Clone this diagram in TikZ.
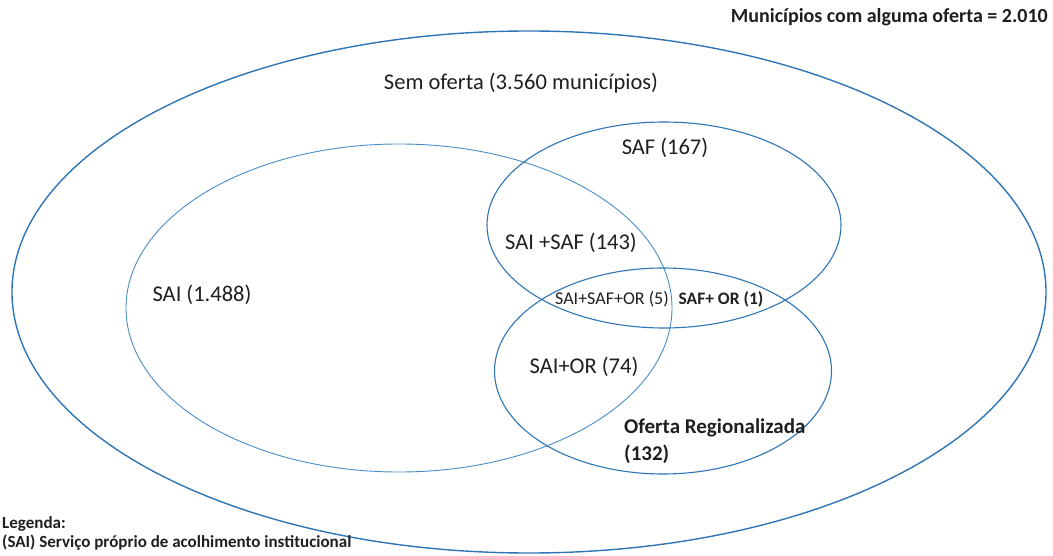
\documentclass[tikz,border=0pt]{standalone}
\usepackage{fontspec}
\setmainfont{Carlito}
\usetikzlibrary{shapes.geometric}
\definecolor{setblue}{RGB}{46,117,182}
\definecolor{setlight}{RGB}{74,140,198}

\begin{document}
\begin{tikzpicture}[x=1pt,y=-1pt,text=black!88]
    \tikzstyle{set}=[ellipse,draw=setblue,line width=1.1pt,inner sep=0pt]
    \tikzstyle{lbl}=[inner sep=0pt,font=\fontsize{22.5}{26}\selectfont]
    \tikzstyle{small}=[inner sep=0pt,font=\fontsize{18}{21}\selectfont]
    \tikzstyle{legend}=[inner sep=0pt,anchor=base west,font=\bfseries\fontsize{17}{20}\selectfont]

    \useasboundingbox (0,0) rectangle (1053,556);

    % the sets
    \node[set,line width=1.4pt,minimum width=1034pt,minimum height=522pt] (outer) at (529,292) {};
    \node[set,draw=setlight,line width=0.9pt,minimum width=546pt,minimum height=328pt] (sai) at (399,308) {};
    \node[set,minimum width=354pt,minimum height=206pt] (saf) at (664,225) {};
    \node[set,minimum width=337pt,minimum height=206pt] (or) at (663,371) {};

    % counts
    \node[lbl] (sem) at (521,83) {Sem oferta (3.560 municípios)};
    \node[lbl] (safonly) at (665,148) {SAF (167)};
    \node[lbl] (saionly) at (202,295) {SAI (1.488)};
    \node[lbl] (saisaf) at (571,243) {SAI +SAF (143)};
    \node[small] (saisafor) at (612,299) {SAI+SAF+OR (5)};
    \node[small,font=\bfseries\fontsize{17.5}{21}\selectfont] (safor) at (721,299) {SAF+ OR (1)};
    \node[lbl] (saior) at (584,367) {SAI+OR (74)};
    \node[lbl,anchor=west,align=left,font=\bfseries\fontsize{21}{27}\selectfont] (oronly) at (624,441) {Oferta Regionalizada\\(132)};

    \node[inner sep=0pt,anchor=base east,font=\bfseries\fontsize{20}{23}\selectfont] (total) at (1048,23) {Municípios com alguma oferta = 2.010};

    % legenda
    \node[legend] (leg) at (2,528) {Legenda:};
    \node[legend] (legsai) at (2,547) {(SAI) Serviço próprio de acolhimento institucional};
\end{tikzpicture}
\end{document}
